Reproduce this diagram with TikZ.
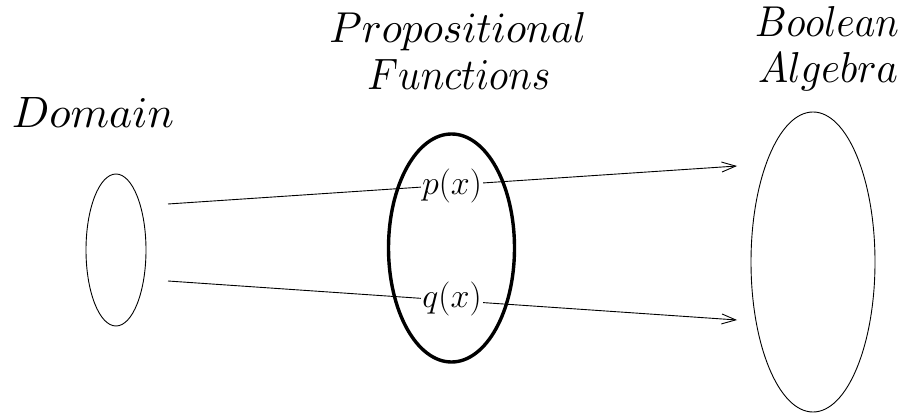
\documentclass[tikz,border=0pt]{standalone}
\usepackage{graphicx}
\usetikzlibrary{arrows.meta}
\newcommand{\ttl}[2]{\resizebox{#1pt}{30pt}{$#2$}}
\newcommand{\lbl}[1]{\scalebox{1.37}{\Huge$#1$}}
\begin{document}
\begin{tikzpicture}[x=1pt,y=-1pt,
  title/.style={inner sep=0pt,anchor=base},
  lab/.style={inner sep=1pt,fill=white},
  conn/.style={line width=0.9pt,-{Straight Barb[length=14pt,width=10pt]}}]
\useasboundingbox (0,0) rectangle (909,419);
\draw[line width=0.9pt] (116,250) ellipse [x radius=30, y radius=76];
\draw[line width=3.4pt] (451.5,248) ellipse [x radius=63, y radius=114];
\draw[line width=0.9pt] (813,262) ellipse [x radius=62, y radius=150];
\node[title] (dom) at (93,128) {\ttl{162}{Domain}};
\node[title] (pf1) at (458,43) {\ttl{257}{Propositional}};
\node[title] (pf2) at (459,90) {\ttl{183}{Functions}};
\node[title] (ba1) at (827,37) {\ttl{144}{Boolean}};
\node[title] (ba2) at (828,83) {\ttl{140}{Algebra}};
\coordinate (d1) at (168,204);
\coordinate (b1) at (737,166);
\coordinate (d2) at (168,281);
\coordinate (b2) at (737,320);
\draw[conn] (d1) -- (b1);
\draw[conn] (d2) -- (b2);
\node[lab] (p) at (452,186) {\lbl{p(x)}};
\node[lab] (q) at (452,299) {\lbl{q(x)}};
\end{tikzpicture}
\end{document}
